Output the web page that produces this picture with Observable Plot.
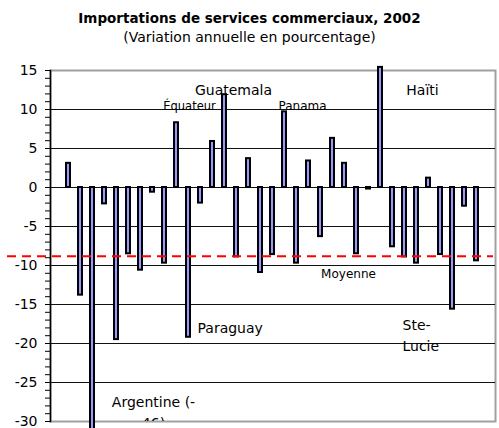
<!DOCTYPE html>
<html>
<head>
<meta charset="utf-8">
<script src="https://cdn.jsdelivr.net/npm/d3@7"></script>
<script src="https://cdn.jsdelivr.net/npm/@observablehq/plot@0.6"></script>
<style>
  html, body { margin: 0; padding: 0; background: white; }
  #wrap { width: 499px; height: 428px; overflow: hidden; position: relative; font-family: "DejaVu Sans", sans-serif; color: #000; }
  #head { height: 50px; text-align: center; }
  #title { padding-top: 9px; height: 18px; line-height: 18px; font-weight: bold; font-size: 13.5px; }
  #subtitle { margin-top: 1px; height: 18px; line-height: 18px; font-size: 14px; }
</style>
</head>
<body>
<div id="wrap">
  <div id="head">
    <div id="title">Importations de services commerciaux, 2002</div>
    <div id="subtitle">(Variation annuelle en pourcentage)</div>
  </div>
  <div id="chart"></div>
</div>
<script>
// Bar categories (position index of each economy, left to right)
const categories = d3.range(1, 36);
// Annual percentage change (Argentine is -46, off the scale)
const values = [3.1, -13.8, -46, -2.1, -19.5, -8.5, -10.6, -0.6, -9.7, 8.3,
                -19.2, -2.0, 5.9, 11.9, -8.9, 3.7, -10.9, -8.6, 9.7, -9.7,
                3.4, -6.3, 6.3, 3.1, -8.5, -0.2, 15.4, -7.6, -8.9, -9.7,
                1.2, -8.6, -15.6, -2.4, -9.4];
// Average ("Moyenne")
const meanValue = [-8.8];
// Y axis ticks
const yDomain = [-30, 15];
const yTicks = d3.range(-30, 16, 1);
const gridValues = [10, 5, 0, -5, -10, -15, -20, -25];
// Annotations: category index, y value (data units), text
const labelIndex = [14, 10, 19, 27, 11, 3, 33, 24];
const labelY = [11.8, 9.9, 9.9, 11.8, -18.7, -26.2, -16.4, -11.6];
const labelText = ["Guatemala", "Équateur", "Panama", "Haïti", "Paraguay", "Argentine (-\n46)", "Ste-\nLucie", "Moyenne"];

const data = categories.map((c, k) => ({cat: c, v: values[k]}));
const labels = labelIndex.map((c, k) => ({cat: c, y: labelY[k], text: labelText[k]}));
const lab = name => labels.filter(d => d.text === name);

const chart = Plot.plot({
  width: 499,
  height: 378,
  marginTop: 20,
  marginBottom: 7,
  marginLeft: 50,
  marginRight: 4,
  style: {fontFamily: "DejaVu Sans", fontSize: "14px", color: "#000", background: "white"},
  x: {type: "band", domain: categories, paddingInner: 0.66, paddingOuter: 0.33, axis: null},
  y: {domain: yDomain, axis: null},
  marks: [
    Plot.frame({stroke: "#a0a0a0", strokeWidth: 2}),
    Plot.ruleY(gridValues, {stroke: "#111", strokeWidth: 1}),
    Plot.barY(data, {x: "cat", y: "v", fill: "#9999ff", stroke: "#000", strokeWidth: 2}),
    Plot.ruleY(meanValue, {stroke: "#ff0000", strokeWidth: 2, strokeDasharray: "9,6", insetLeft: -43, insetRight: 2}),
    Plot.text(lab("Guatemala"), {x: "cat", y: "y", text: "text", dx: 9, lineAnchor: "bottom", fontSize: 14}),
    Plot.text(lab("Équateur"), {x: "cat", y: "y", text: "text", dx: 13, lineAnchor: "bottom", fontSize: 11.5}),
    Plot.text(lab("Panama"), {x: "cat", y: "y", text: "text", dx: 18, lineAnchor: "bottom", fontSize: 12}),
    Plot.text(lab("Haïti"), {x: "cat", y: "y", text: "text", dx: 42, lineAnchor: "bottom", fontSize: 14}),
    Plot.text(lab("Paraguay"), {x: "cat", y: "y", text: "text", dx: 9, textAnchor: "start", lineAnchor: "bottom", fontSize: 14}),
    Plot.text(lab("Argentine (-\n46)"), {x: "cat", y: "y", text: "text", dx: 61, lineAnchor: "top", lineHeight: 1.5, fontSize: 14, clip: true}),
    Plot.text(lab("Ste-\nLucie"), {x: "cat", y: "y", text: "text", dx: -50, textAnchor: "start", lineAnchor: "top", lineHeight: 1.5, fontSize: 14}),
    Plot.text(lab("Moyenne"), {x: "cat", y: "y", text: "text", dx: 4, lineAnchor: "bottom", fontSize: 12}),
    Plot.axisY({ticks: yTicks, tickFormat: d => d % 5 === 0 ? String(d) : "", tickSize: 5, tickPadding: 8, label: null, stroke: "#000", fill: "#000", fontSize: 14}),
    Plot.frame({anchor: "left", stroke: "#000", strokeWidth: 1.5})
  ]
});
document.getElementById("chart").appendChild(chart);
</script>
</body>
</html>
